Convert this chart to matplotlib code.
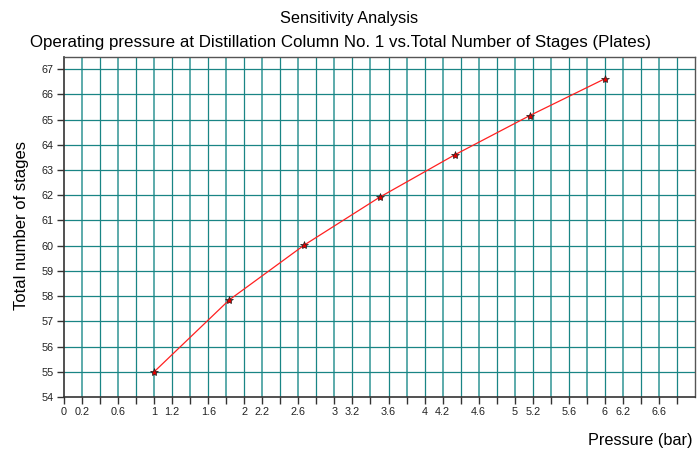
import matplotlib
matplotlib.use("Agg")
import matplotlib.pyplot as plt
import numpy as np

plt.rcParams['font.family'] = ['Liberation Sans', 'DejaVu Sans']

pressure = [1.0, 1.833, 2.667, 3.5, 4.333, 5.167, 6.0]
stages = [55.0, 57.85, 60.03, 61.92, 63.6, 65.16, 66.62]

x_ticks = [round(0.2 * i, 1) for i in range(35)]
x_labels_shown = ['0', '0.2', '0.6', '1', '1.2', '1.6', '2', '2.2', '2.6', '3', '3.2', '3.6',
                  '4', '4.2', '4.6', '5', '5.2', '5.6', '6', '6.2', '6.6']
y_ticks = list(range(54, 68))

fig = plt.figure(figsize=(6.98, 4.53), dpi=100)
ax = fig.add_axes([0.0917, 0.1236, 0.9957 - 0.0917, 0.874 - 0.1236])

ax.set_xlim(0, 7.0)
ax.set_ylim(54, 67.48)

grid_c = '#1a8585'
for i, xv in enumerate(x_ticks[1:]):
    ax.axvline(xv, color=grid_c if i % 2 else '#4fa5a5', lw=0.9 if i % 2 else 1.3, zorder=1)
for yv in y_ticks[1:]:
    ax.axhline(yv, color=grid_c, lw=0.9, zorder=1)

ax.plot(pressure, stages, color='#ff2020', lw=0.9, zorder=3)
ax.plot(pressure, stages, linestyle='none', marker='*', markersize=6,
        markerfacecolor='#e00000', markeredgecolor='#202020', markeredgewidth=0.5, zorder=4)

labels = []
for xv in x_ticks:
    s = ('%g' % xv)
    labels.append(s if s in x_labels_shown else '')
ax.set_xticks(x_ticks)
ax.set_xticklabels(labels, fontsize=7.8)
ax.set_yticks(y_ticks)
ax.set_yticklabels([str(v) for v in y_ticks], fontsize=7.8)
ax.tick_params(axis='both', direction='out', length=5, width=1, color='#333333',
               labelcolor='#222222', pad=2.5)

for sp in ['left', 'bottom']:
    ax.spines[sp].set_color('#333333')
    ax.spines[sp].set_linewidth(1.2)
for sp in ['top', 'right']:
    ax.spines[sp].set_color('#555555')
    ax.spines[sp].set_linewidth(1.0)

fig.text(0.5, 1 - 18 / 453, 'Sensitivity Analysis', ha='center', va='center', fontsize=11.7)
fig.text(340 / 698, 1 - 43 / 453,
         'Operating pressure at Distillation Column No. 1 vs.Total Number of Stages (Plates)',
         ha='center', va='center', fontsize=12.2)
fig.text(22 / 698, 1 - 226 / 453, 'Total number of stages', rotation=90, ha='center',
         va='center', fontsize=12)
fig.text(693 / 698, 1 - 440 / 453, 'Pressure (bar)', ha='right', va='center', fontsize=11.7)

fig.savefig('out.png', dpi=100)
